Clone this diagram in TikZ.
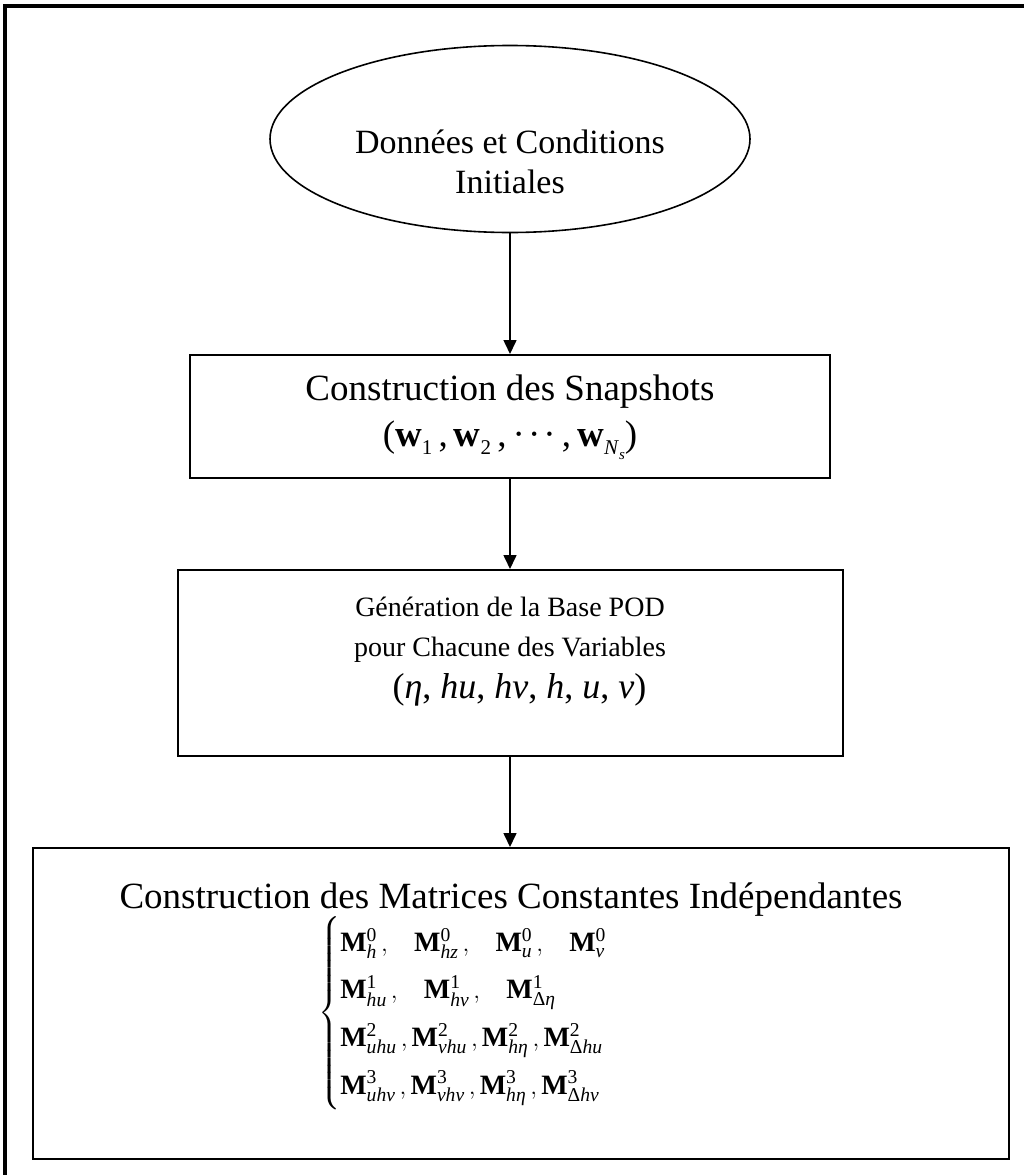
\documentclass[tikz,border=0pt]{standalone}
\usepackage{amsmath}
\usepackage{fontspec}
\setmainfont{Liberation Serif}
\usetikzlibrary{arrows.meta,shapes.geometric}
\newcommand{\Mx}[2]{\textbf{M}^{\textup{#1}}_{\textit{#2}}}
\newcommand{\gp}{\hspace{22pt}}
\newcommand{\sbx}[1]{\raisebox{-0.22em}{\fontsize{21}{21}\selectfont #1}}
\newcommand{\ssbx}[1]{\raisebox{-0.25em}{\fontsize{15}{15}\selectfont #1}}
\newcommand{\mydots}{·\kern3pt·\kern3pt·}
\begin{document}
\begin{tikzpicture}[x=1pt,y=-1pt,
  frame/.style={line width=4pt},
  boxshape/.style={draw,line width=2pt,inner sep=0pt},
  txt/.style={font=\fontsize{28}{40}\selectfont,align=center,inner sep=0pt},
  arr/.style={line width=1.6pt,-{Triangle[width=13pt,length=14pt]}}]
\useasboundingbox (0,0) rectangle (1024,1175);
\draw[frame] (5,1180) -- (5,6) -- (1030,6);
% nodes
\node[boxshape,ellipse,line width=1.6pt,minimum width=480pt,minimum height=187pt] (start) at (510,139) {};
\node[txt,font=\fontsize{34}{40}\selectfont] (starttxt) at (510,162) {Données et Conditions\\Initiales};
\node[boxshape,minimum width=640pt,minimum height=123pt] (snap) at (510,416.5) {};
\node[txt,font=\fontsize{37}{48}\selectfont] (snaptxt) at (510,392) {Construction des Snapshots};
\node[txt,font=\fontsize{37}{48}\selectfont] (snapvec) at (510,440)
  {(\textbf{w}\sbx{1}\,,\,\textbf{w}\sbx{2}\,,\,\mydots\,,\,\textbf{w}\sbx{\textit{N}\ssbx{\textit{s}}})};
\node[boxshape,minimum width=665pt,minimum height=186pt] (pod) at (510.5,663) {};
\node[txt] (podtxt) at (510,630) {Génération de la Base POD\\pour Chacune des Variables};
\node[txt,font=\fontsize{36}{40}\selectfont] (podvars) at (519.5,690)
  {(\textit{η}, \textit{hu}, \textit{hv}, \textit{h}, \textit{u}, \textit{v})};
\node[boxshape,minimum width=976pt,minimum height=311pt] (mat) at (521,1003.5) {};
\node[txt,font=\fontsize{37}{44}\selectfont] (mattitle) at (511,900) {Construction des Matrices Constantes Indépendantes};
\node[txt,anchor=north west] (matlist) at (318,916) {%
  \renewcommand{\arraystretch}{1.19}%
  $\left\{\begin{array}{@{}l@{}}
  \Mx{0}{h}\,,\gp \Mx{0}{hz}\,,\gp \Mx{0}{u}\,,\gp \Mx{0}{v}\\
  \Mx{1}{hu}\,,\gp \Mx{1}{hv}\,,\gp \Mx{1}{\textup{Δ}η}\\
  \Mx{2}{uhu}\,, \Mx{2}{vhu}\,, \Mx{2}{hη}\,, \Mx{2}{\textup{Δ}hu}\\
  \Mx{3}{uhv}\,, \Mx{3}{vhv}\,, \Mx{3}{hη}\,, \Mx{3}{\textup{Δ}hv}
  \end{array}\right.$};
% connectors
\draw[arr] (start.south) -- (snap.north);
\draw[arr] (snap.south) -- (pod.north -| snap.south);
\draw[arr] (pod.south -| snap.south) -- (mat.north -| snap.south);
\end{tikzpicture}
\end{document}
